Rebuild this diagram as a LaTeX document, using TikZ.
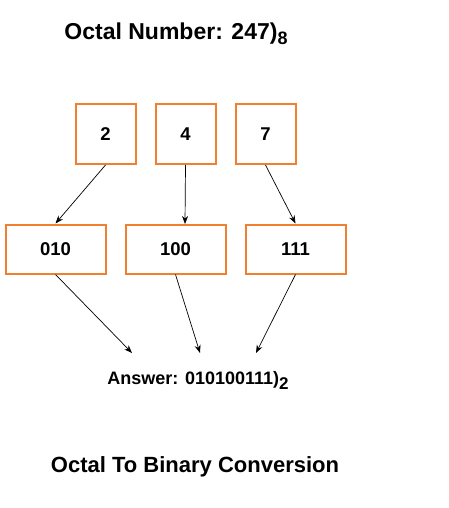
\documentclass[tikz,border=0pt]{standalone}
\usepackage{fontspec}
\setmainfont{Liberation Sans}
\usetikzlibrary{arrows.meta}
\definecolor{boxorange}{RGB}{240,128,48}
\begin{document}
\begin{tikzpicture}[x=1pt,y=-1pt,
  digitbox/.style={draw=boxorange,line width=2pt,minimum width=60pt,minimum height=60pt,inner sep=0pt,font=\bfseries\fontsize{18.5}{18.5}\selectfont},
  binbox/.style={draw=boxorange,line width=2pt,minimum width=100pt,minimum height=49pt,inner sep=0pt,font=\bfseries\fontsize{18.5}{18.5}\selectfont},
  conn/.style={-{Stealth[length=8pt,width=6pt]},line width=0.7pt,black}]
\useasboundingbox (0,0) rectangle (449,508);
\node[font=\bfseries\fontsize{23}{23}\selectfont,anchor=base] (title) at (176,40) {Octal Number: 247)\raisebox{-5pt}{\fontsize{18}{18}\selectfont 8}};
\node[digitbox] (d2) at (105.5,134) {2};
\node[digitbox] (d4) at (185.5,134) {4};
\node[digitbox] (d7) at (265.5,134) {7};
\node[binbox] (b1) at (55.5,249) {010};
\node[binbox] (b2) at (175.5,249) {100};
\node[binbox] (b3) at (295.5,249) {111};
\coordinate (b2top) at (185,224);
\coordinate (e1) at (132,353);
\coordinate (e2) at (200,353);
\coordinate (e3) at (256,353);
\draw[conn] (d2.south) -- (b1.north);
\draw[conn] (d4.south) -- (b2top);
\draw[conn] (d7.south) -- (b3.north);
\draw[conn] (b1.south) -- (e1);
\draw[conn] (b2.south) -- (e2);
\draw[conn] (b3.south) -- (e3);
\node[font=\bfseries\fontsize{18}{18}\selectfont,anchor=base] (ans) at (198,384) {Answer: 010100111)\raisebox{-5pt}{\fontsize{17}{17}\selectfont 2}};
\node[font=\bfseries\fontsize{22}{22}\selectfont,anchor=base] (caption) at (195,472) {Octal To Binary Conversion};
\end{tikzpicture}
\end{document}
